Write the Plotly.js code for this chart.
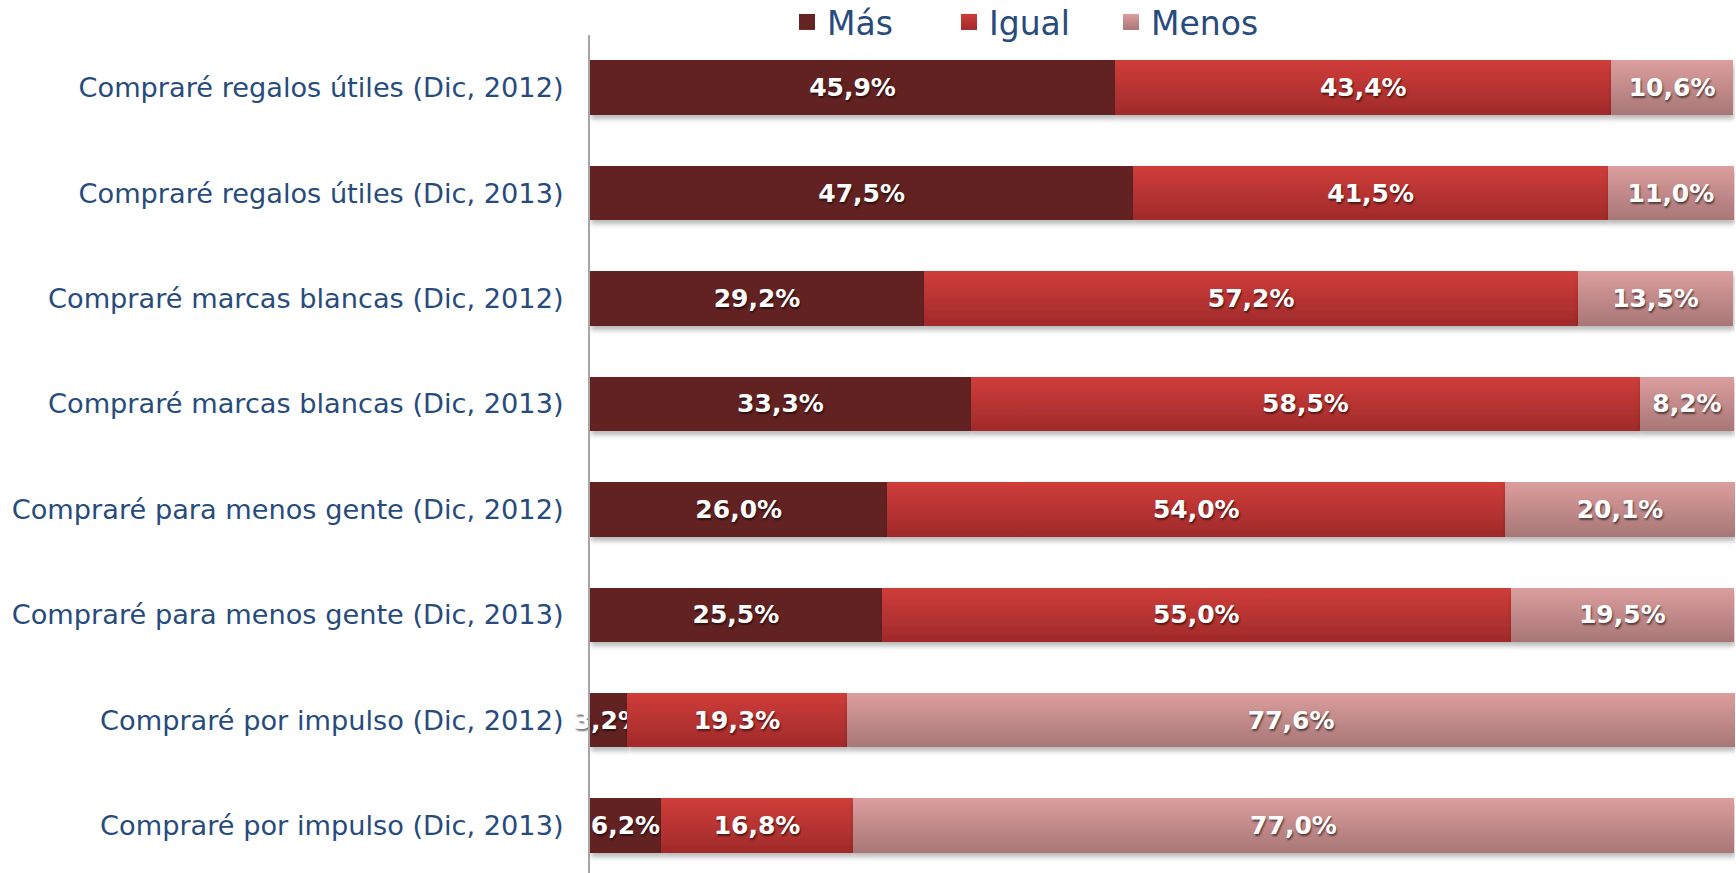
<!DOCTYPE html>
<html>
<head>
<meta charset="utf-8">
<script src="https://cdn.plot.ly/plotly-3.0.1.min.js"></script>
<style>
  html, body { margin: 0; padding: 0; background: #ffffff; }
  #chart { width: 1736px; height: 873px; }
</style>
</head>
<body>
<div id="chart"></div>
<script>
// ---- data ----
const categories = [
  "Compraré regalos útiles (Dic, 2012)",
  "Compraré regalos útiles (Dic, 2013)",
  "Compraré marcas blancas (Dic, 2012)",
  "Compraré marcas blancas (Dic, 2013)",
  "Compraré para menos gente (Dic, 2012)",
  "Compraré para menos gente (Dic, 2013)",
  "Compraré por impulso (Dic, 2012)",
  "Compraré por impulso (Dic, 2013)"
];
const seriesNames = ["Más", "Igual", "Menos"];
const mas   = [45.9, 47.5, 29.2, 33.3, 26.0, 25.5, 3.2, 6.2];
const igual = [43.4, 41.5, 57.2, 58.5, 54.0, 55.0, 19.3, 16.8];
const menos = [10.6, 11.0, 13.5, 8.2, 20.1, 19.5, 77.6, 77.0];

// ---- styles ----
const solidColors = ["#632424", "#B83332", "#C58A8A"];
const gradStops = [
  ["#632424", "#632424"],
  ["#CF3D3A", "#A02A2A"],
  ["#DC9E9E", "#A87676"]
];
const labelColor = "#274B7C";

function fmt(v) { return v.toFixed(1).replace(".", ",") + "%"; }

const seriesValues = [mas, igual, menos];
const traces = seriesValues.map((vals, i) => ({
  type: "bar",
  orientation: "h",
  name: seriesNames[i],
  y: categories,
  x: vals,
  text: vals.map(fmt),
  textposition: "inside",
  insidetextanchor: "middle",
  textangle: 0,
  constraintext: "none",
  cliponaxis: i !== 0,
  textfont: {
    family: "DejaVu Sans",
    size: 25,
    color: "#ffffff",
    weight: 700,
    shadow: "1px 2px 2px rgba(0,0,0,0.55)"
  },
  marker: { color: solidColors[i], line: { width: 0 } },
  showlegend: false,
  hoverinfo: "skip"
}));

// legend-only entries with larger square symbols
seriesNames.forEach((n, i) => {
  traces.push({
    type: "scatter",
    mode: "markers",
    name: n,
    x: [null],
    y: [null],
    marker: { symbol: "square", size: 19, color: solidColors[i] },
    showlegend: true,
    hoverinfo: "skip"
  });
});

const layout = {
  width: 1736,
  height: 873,
  margin: { l: 590, r: 1, t: 35, b: 0, pad: 0, autoexpand: false },
  paper_bgcolor: "#ffffff",
  plot_bgcolor: "#ffffff",
  barmode: "stack",
  bargap: 0.483,
  font: { family: "DejaVu Sans", color: labelColor },
  xaxis: {
    range: [0, 100.1],
    visible: false,
    showgrid: false,
    zeroline: false,
    fixedrange: true
  },
  yaxis: {
    type: "category",
    categoryorder: "array",
    categoryarray: categories,
    range: [7.45, -0.5],
    showline: true,
    linecolor: "#A6A6A6",
    linewidth: 2,
    showgrid: false,
    zeroline: false,
    ticks: "",
    ticklabelstandoff: 19,
    tickfont: { family: "DejaVu Sans", size: 27.2, color: labelColor },
    fixedrange: true
  },
  showlegend: true,
  legend: {
    orientation: "h",
    xref: "container",
    yref: "container",
    x: 787 / 1736,
    xanchor: "left",
    y: 1 - 22 / 873,
    yanchor: "middle",
    entrywidth: 117,
    entrywidthmode: "pixels",
    itemwidth: 30,
    font: { family: "DejaVu Sans", size: 33, color: labelColor },
    bgcolor: "rgba(0,0,0,0)",
    traceorder: "normal"
  }
};

Plotly.newPlot("chart", traces, layout, { displayModeBar: false, staticPlot: true }).then(gd => {
  // add vertical gradients and a soft shadow to the bars
  const svg = gd.querySelector("svg.main-svg");
  const NS = "http://www.w3.org/2000/svg";
  let defs = svg.querySelector("defs");
  if (!defs) { defs = document.createElementNS(NS, "defs"); svg.insertBefore(defs, svg.firstChild); }
  gradStops.forEach((st, i) => {
    const lg = document.createElementNS(NS, "linearGradient");
    lg.setAttribute("id", "barGrad" + i);
    lg.setAttribute("x1", "0"); lg.setAttribute("y1", "0");
    lg.setAttribute("x2", "0"); lg.setAttribute("y2", "1");
    [[0, st[0]], [1, st[1]]].forEach(([o, c]) => {
      const s = document.createElementNS(NS, "stop");
      s.setAttribute("offset", o);
      s.setAttribute("stop-color", c);
      lg.appendChild(s);
    });
    defs.appendChild(lg);
  });
  const f = document.createElementNS(NS, "filter");
  f.setAttribute("id", "barShadow");
  f.setAttribute("x", "-5%"); f.setAttribute("y", "-20%");
  f.setAttribute("width", "110%"); f.setAttribute("height", "160%");
  const ds = document.createElementNS(NS, "feDropShadow");
  ds.setAttribute("dx", "1"); ds.setAttribute("dy", "4");
  ds.setAttribute("stdDeviation", "2.5");
  ds.setAttribute("flood-color", "#000000");
  ds.setAttribute("flood-opacity", "0.28");
  f.appendChild(ds);
  defs.appendChild(f);

  const barTraces = gd.querySelectorAll(".barlayer .trace");
  barTraces.forEach((tr, i) => {
    tr.querySelectorAll(".point path").forEach(p => {
      p.style.fill = "url(#barGrad" + i + ")";
      p.setAttribute("filter", "url(#barShadow)");
    });
  });
  // legend squares with gradients as well
  const legendPts = gd.querySelectorAll(".legend .traces .scatterpts path, .legend .traces path.scatterpts");
  legendPts.forEach((p, i) => { if (i < 3) p.style.fill = "url(#barGrad" + i + ")"; });
});
</script>
</body>
</html>
